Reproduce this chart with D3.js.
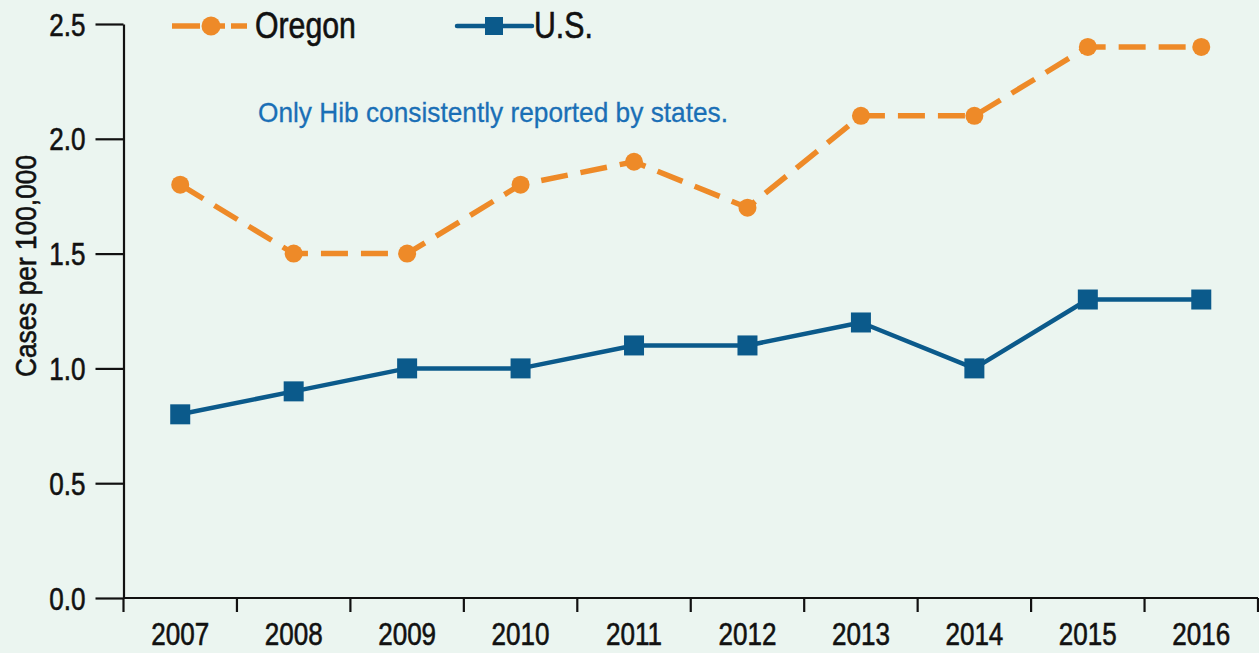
<!DOCTYPE html>
<html><head><meta charset="utf-8">
<script src="https://cdn.jsdelivr.net/npm/d3@7"></script>
<style>
html,body{margin:0;padding:0;background:#ebf5f0;}
svg{display:block;}
text{font-family:"Liberation Sans",Arial,sans-serif;}
</style></head>
<body>
<svg id="chart" width="1259" height="653"></svg>
<script>
const years = ["2007","2008","2009","2010","2011","2012","2013","2014","2015","2016"];
const oregon = [1.8,1.5,1.5,1.8,1.9,1.7,2.1,2.1,2.4,2.4];
const us = [0.8,0.9,1.0,1.0,1.1,1.1,1.2,1.0,1.3,1.3];
const yTicks = [0,0.5,1.0,1.5,2.0,2.5];
const seriesNames = ["Oregon","U.S."];
const yTitle = "Cases per 100,000";
const note = "Only Hib consistently reported by states.";

const ORANGE = "#ee8a28", BLUE = "#0b5a8b", NOTE = "#1a6fb6", INK = "#111";
const FONT = '"Liberation Sans",Arial,sans-serif';
const svg = d3.select("#chart");
svg.append("rect").attr("width",1259).attr("height",653).attr("fill","#ebf5f0");

// condense text horizontally (reference uses a condensed face)
function condense(sel, f){
  sel.each(function(){
    const w = this.getComputedTextLength();
    d3.select(this).attr("textLength", w*f).attr("lengthAdjust","spacingAndGlyphs");
  });
}
function fitTo(sel, w){
  sel.attr("textLength", w).attr("lengthAdjust","spacingAndGlyphs");
}
function heavy(sel, c){ sel.attr("stroke", c).attr("stroke-width", 0.6); }

const x = d3.scaleBand().domain(years).range([123.5,1258]);
const y = d3.scaleLinear().domain([0,2.5]).range([598,24]);

// y axis
const yAxis = svg.append("g").attr("transform","translate(123.5,0)")
  .call(d3.axisLeft(y).tickValues(yTicks).tickSize(28).tickSizeOuter(0).tickPadding(10).tickFormat(d3.format(".1f")));
yAxis.attr("font-family",FONT);
yAxis.select(".domain").attr("stroke",INK).attr("stroke-width",2.2);
yAxis.selectAll(".tick line").attr("stroke",INK).attr("stroke-width",2.2);
yAxis.selectAll(".tick text").attr("font-size",31).attr("fill",INK).attr("dy","0.36em")
  .call(condense,0.84).call(heavy,INK);

// x axis: labels at band centres, ticks at band boundaries
const xAxis = svg.append("g").attr("transform","translate(0,598)")
  .call(d3.axisBottom(x).tickSize(0).tickSizeOuter(0).tickPadding(25));
xAxis.attr("font-family",FONT);
xAxis.select(".domain").remove();
xAxis.selectAll(".tick text").attr("font-size",31).attr("fill",INK).attr("dy","0.71em")
  .call(condense,0.84).call(heavy,INK);
svg.append("line").attr("x1",x.range()[0]).attr("x2",x.range()[1]).attr("y1",598).attr("y2",598)
  .attr("stroke",INK).attr("stroke-width",2.2);
const bounds = years.map(d=>x(d)).concat([x.range()[1]]);
svg.append("g").selectAll("line").data(bounds).join("line")
  .attr("x1",d=>d).attr("x2",d=>d).attr("y1",598).attr("y2",612)
  .attr("stroke",INK).attr("stroke-width",2.2);

// y title
svg.append("text").attr("transform","translate(36,266) rotate(-90)")
  .attr("text-anchor","middle").attr("font-size",29).attr("fill",INK).text(yTitle)
  .call(fitTo,222).call(heavy,INK);

// note
svg.append("text").attr("x",258).attr("y",122).attr("font-size",28).attr("fill",NOTE).text(note)
  .call(fitTo,470).attr("stroke",NOTE).attr("stroke-width",0.3);

const cx = d=>x(d)+x.bandwidth()/2;
const line = d3.line().x(d=>cx(d.year)).y(d=>y(d.v));
const oData = years.map((yr,i)=>({year:yr,v:oregon[i]}));
const uData = years.map((yr,i)=>({year:yr,v:us[i]}));

svg.append("path").datum(uData).attr("d",line).attr("fill","none")
  .attr("stroke",BLUE).attr("stroke-width",4.5).attr("stroke-linejoin","round");
svg.append("g").selectAll("rect").data(uData).join("rect")
  .attr("x",d=>cx(d.year)-10).attr("y",d=>y(d.v)-10).attr("width",20).attr("height",20).attr("fill",BLUE);

svg.append("path").datum(oData).attr("d",line).attr("fill","none")
  .attr("stroke",ORANGE).attr("stroke-width",5.5).attr("stroke-dasharray","27,13");
svg.append("g").selectAll("circle").data(oData).join("circle")
  .attr("cx",d=>cx(d.year)).attr("cy",d=>y(d.v)).attr("r",9).attr("fill",ORANGE);

// legend
const lg = svg.append("g");
lg.append("line").attr("x1",172).attr("x2",247).attr("y1",26).attr("y2",26)
  .attr("stroke",ORANGE).attr("stroke-width",5.5).attr("stroke-dasharray","28,3,22,6,16");
lg.append("circle").attr("cx",211).attr("cy",26).attr("r",9.5).attr("fill",ORANGE);
lg.append("text").attr("x",255).attr("y",38).attr("font-size",36).attr("fill",INK).text(seriesNames[0])
  .call(condense,0.84).call(heavy,INK);
lg.append("line").attr("x1",457).attr("x2",532).attr("y1",26).attr("y2",26)
  .attr("stroke",BLUE).attr("stroke-width",4.5).attr("stroke-linecap","round");
lg.append("rect").attr("x",485).attr("y",17).attr("width",18).attr("height",18).attr("fill",BLUE);
lg.append("text").attr("x",534).attr("y",38).attr("font-size",36).attr("fill",INK).text(seriesNames[1])
  .call(condense,0.84).call(heavy,INK);
</script>
</body></html>
